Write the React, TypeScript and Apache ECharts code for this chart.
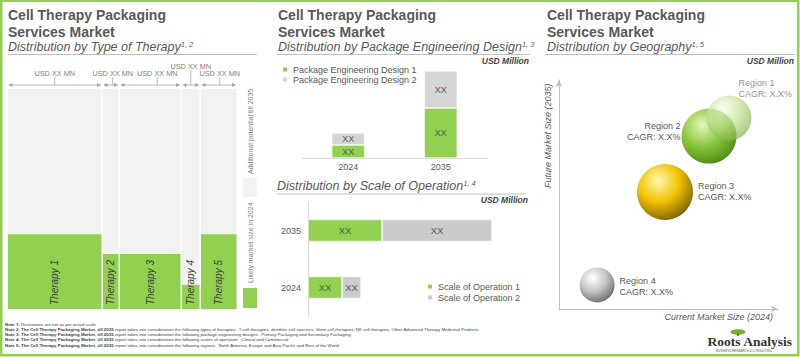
import React, { useEffect, useRef } from 'react';
import * as echarts from 'echarts';

// ---------- Data ----------
const therapies = ['Therapy 1', 'Therapy 2', 'Therapy 3', 'Therapy 4', 'Therapy 5'];
const therapyMarketWidth = [94, 17, 62, 19, 37];
const therapyLikely2024 = [34, 25, 25, 11, 34];
const therapyPotential2035 = [100, 100, 100, 100, 100];
const therapyValueLabels = ['USD XX MN', 'USD XX MN', 'USD XX MN', 'USD XX MN', 'USD XX MN'];

const designYears = ['2024', '2035'];
const designSeriesNames = ['Package Engineering Design 1', 'Package Engineering Design 2'];
const design1 = [13, 50];
const design2 = [12, 37];
const designValueLabels1 = ['XX', 'XX'];
const designValueLabels2 = ['XX', 'XX'];

const scaleYears = ['2024', '2035'];
const scaleSeriesNames = ['Scale of Operation 1', 'Scale of Operation 2'];
const scale1 = [34, 74];
const scale2 = [19, 110];
const scaleValueLabels1 = ['XX', 'XX'];
const scaleValueLabels2 = ['XX', 'XX'];

const regions = ['Region 1', 'Region 2', 'Region 3', 'Region 4'];
const regionCurrent2024 = [77.6, 68.5, 48.4, 17.4];
const regionFuture2035 = [83.4, 75.5, 51.1, 10.5];
const regionBubbleSize = [45, 55, 56, 35];
const regionCagr = ['X.X%', 'X.X%', 'X.X%', 'X.X%'];

const notes = [
  ['Note 1: ', 'Illustrations are not as per actual scale'],
  ['Note 2: The Cell Therapy Packaging Market, till 2035', ' report takes into consideration the following types of therapies:  T-cell therapies, dendritic cell vaccines, Stem cell therapies, NK cell therapies, Other Advanced Therapy Medicinal Products'],
  ['Note 3: The Cell Therapy Packaging Market, till 2035', ' report takes into consideration the following package engineering designs:  Primary Packaging and Secondary Packaging'],
  ['Note 4: The Cell Therapy Packaging Market, till 2035', ' report takes into consideration the following scales of operation:  Clinical and Commercial'],
  ['Note 5: The Cell Therapy Packaging Market, till 2035', ' report takes into consideration the following regions:  North America, Europe and Asia-Pacific and Rest of the World'],
];

// ---------- Styles ----------
const FONT = 'Liberation Sans, Arial, sans-serif';
const SERIF = 'Liberation Serif, DejaVu Serif, serif';
const GREEN = '#92d050';
const LIGHT = '#f2f2f2';
const GREY_BAR = '#cbcbcb';
const TXT = '#595959';
const labelShift = [0, 2, 7, 0, 1];
const labelRaise = [0, 0, 0, 7, 0];
const bubbleColors = [
  ['#f4fbe8', '#bfe08f', '#7fae42', 0.68],
  ['#e6f8bd', '#8dc83c', '#4a8a10', 1],
  ['#fff8b0', '#f1c300', '#7d6000', 1],
  ['#ffffff', '#c6c6c6', '#6a6a6a', 1],
];
const regionLabelPlacement: any[] = [
  { position: [32, -18], align: 'left', verticalAlign: 'top' },
  { position: 'left', distance: 1, offset: [0, -5], align: 'right' },
  { position: 'right', distance: 5, align: 'left' },
  { position: 'right', distance: 5, offset: [0, 2], align: 'left' },
];

function titleBlock(x: number, sub: string, sup: string, subY = 47): any[] {
  const els: any[] = [];
  if (subY === 47) {
    els.push({ type: 'text', x, y: 15, style: { text: 'Cell Therapy Packaging', fontSize: 14, fontWeight: 'bold', fontFamily: FONT, fill: TXT, verticalAlign: 'middle' } });
    els.push({ type: 'text', x, y: 31.5, style: { text: 'Services Market', fontSize: 14, fontWeight: 'bold', fontFamily: FONT, fill: TXT, verticalAlign: 'middle' } });
  }
  els.push({
    type: 'text', x, y: subY,
    style: {
      text: `{m|${sub}}{s|${sup}}`, verticalAlign: 'middle', fontFamily: FONT,
      rich: {
        m: { fontSize: 12.5, fontStyle: 'italic', fontFamily: FONT, fill: TXT },
        s: { fontSize: 7.5, fontStyle: 'italic', fontFamily: FONT, fill: TXT, verticalAlign: 'top' },
      },
    },
  });
  return els;
}

function usdMillion(x: number, y: number) {
  return { type: 'text', x, y, style: { text: 'USD Million', fontSize: 8.5, fontWeight: 'bold', fontStyle: 'italic', fontFamily: FONT, fill: '#404040', align: 'right', verticalAlign: 'middle' } };
}

function hline(x1: number, x2: number, y: number) {
  return { type: 'line', shape: { x1, y1: y, x2, y2: y }, style: { stroke: '#bfbfbf', lineWidth: 1 } };
}

export default function App() {
  const ref = useRef<HTMLDivElement>(null);
  useEffect(() => {
    if (!ref.current) return;
    const chart = echarts.init(ref.current, undefined, { renderer: 'svg' });

    const cum: number[] = [];
    therapyMarketWidth.reduce((acc, w) => { cum.push(acc); return acc + w; }, 0);
    const totalW = therapyMarketWidth.reduce((a, b) => a + b, 0);
    const mekkoData = therapies.map((t, i) => [cum[i], cum[i] + therapyMarketWidth[i], therapyLikely2024[i], therapyPotential2035[i], i]);

    const bubbleData = regions.map((r, i) => {
      const c = bubbleColors[i];
      const pl = regionLabelPlacement[i];
      return {
        name: r,
        value: [regionCurrent2024[i], regionFuture2035[i], regionBubbleSize[i]],
        itemStyle: {
          color: new echarts.graphic.RadialGradient(0.38, 0.3, 0.75, [
            { offset: 0, color: c[0] as string },
            { offset: 0.5, color: c[1] as string },
            { offset: 1, color: c[2] as string },
          ]),
          opacity: c[3] as number,
        },
        label: {
          show: true,
          formatter: `${r}\nCAGR: ${regionCagr[i]}`,
          fontSize: 9, lineHeight: 11, color: TXT, fontFamily: FONT,
          ...pl,
        },
      };
    }).reverse();

    const graphics: any[] = [
      ...titleBlock(8, 'Distribution by Type of Therapy', '1, 2'),
      hline(8, 257, 54.5),
      ...titleBlock(278, 'Distribution by Package Engineering Design', '1, 3'),
      hline(277, 530, 54.5),
      usdMillion(529, 61),
      ...titleBlock(277, 'Distribution by Scale of Operation', '1, 4', 186),
      hline(277, 526, 194),
      usdMillion(528, 200),
      ...titleBlock(547, 'Distribution by Geography', '1, 5'),
      hline(545, 795, 54.5),
      usdMillion(794, 61),
      // marimekko legend
      { type: 'rect', shape: { x: 243, y: 178, width: 14, height: 19 }, style: { fill: LIGHT } },
      { type: 'rect', shape: { x: 243, y: 288, width: 14, height: 20 }, style: { fill: GREEN } },
      { type: 'text', x: 250, y: 174, rotation: Math.PI / 2, style: { text: 'Additional potential till 2035', fontSize: 7, fontFamily: FONT, fill: '#7f7f7f', align: 'left', verticalAlign: 'middle' } },
      { type: 'text', x: 250, y: 283, rotation: Math.PI / 2, style: { text: 'Likely market size in 2024', fontSize: 7, fontFamily: FONT, fill: '#7f7f7f', align: 'left', verticalAlign: 'middle' } },
      // bubble axis names
      { type: 'text', x: 548, y: 188, rotation: Math.PI / 2, style: { text: 'Future Market Size (2035)', fontSize: 9, fontStyle: 'italic', fontFamily: FONT, fill: TXT, align: 'left', verticalAlign: 'middle' } },
      { type: 'text', x: 773, y: 317, style: { text: 'Current Market Size (2024)', fontSize: 9, fontStyle: 'italic', fontFamily: FONT, fill: TXT, align: 'right', verticalAlign: 'middle' } },
      // notes
      ...notes.map((n, i) => ({
        type: 'text', x: 5, y: [324, 329, 334, 339.5, 345][i],
        style: {
          text: `{b|${n[0]}}{n|${n[1]}}`, verticalAlign: 'middle', fontFamily: FONT,
          rich: {
            b: { fontSize: 4.4, fontWeight: 'bold', fontFamily: FONT, fill: '#404040' },
            n: { fontSize: 4.4, fontFamily: FONT, fill: '#404040' },
          },
        },
      })),
      // logo
      { type: 'ellipse', shape: { cx: 738, cy: 332, rx: 7.5, ry: 2.8 }, style: { fill: '#6fb52c' } },
      { type: 'rect', shape: { x: 737.3, y: 333.5, width: 1.4, height: 2.5 }, style: { fill: '#5a4a2a' } },
      { type: 'text', x: 792, y: 341, style: { text: 'Roots Analysis', fontSize: 13.5, fontWeight: 'bold', fontFamily: SERIF, fill: '#333333', align: 'right', verticalAlign: 'middle' } },
      { type: 'text', x: 716, y: 350.3, style: { text: 'BUSINESS RESEARCH & CONSULTING', fontSize: 3, fontFamily: FONT, fill: '#555555', verticalAlign: 'middle' } },
      // outer border
      { type: 'rect', z: 100, shape: { x: 1.25, y: 0.75, width: 797, height: 354.5 }, style: { fill: 'none', stroke: GREEN, lineWidth: 2.5 } },
    ];

    const option: any = {
      animation: false,
      backgroundColor: '#ffffff',
      textStyle: { fontFamily: FONT },
      grid: [
        { left: 8, top: 89, width: 229, height: 220 },
        { left: 302, top: 58, width: 185, height: 100 },
        { left: 308, top: 202, width: 184, height: 114 },
        { left: 559, top: 80, width: 219, height: 229 },
      ],
      xAxis: [
        { gridIndex: 0, type: 'value', min: 0, max: totalW, show: false },
        {
          gridIndex: 1, type: 'category', data: designYears,
          axisLine: { lineStyle: { color: '#d9d9d9' } }, axisTick: { show: false },
          axisLabel: { fontSize: 9, color: TXT, margin: 4, fontFamily: FONT },
        },
        { gridIndex: 2, type: 'value', min: 0, max: 184, show: false },
        {
          gridIndex: 3, type: 'value', min: 0, max: 100,
          axisLine: { show: true, symbol: ['none', 'arrow'], symbolSize: [5, 7], lineStyle: { color: '#bfbfbf' } },
          axisTick: { show: false }, axisLabel: { show: false }, splitLine: { show: false },
        },
      ],
      yAxis: [
        { gridIndex: 0, type: 'value', min: 0, max: 100, show: false },
        { gridIndex: 1, type: 'value', min: 0, max: 100, show: false },
        {
          gridIndex: 2, type: 'category', data: scaleYears,
          axisLine: { lineStyle: { color: '#d9d9d9' } }, axisTick: { show: false },
          axisLabel: { fontSize: 9, color: TXT, margin: 7, fontFamily: FONT },
        },
        {
          gridIndex: 3, type: 'value', min: 0, max: 100,
          axisLine: { show: true, symbol: ['none', 'arrow'], symbolSize: [5, 7], lineStyle: { color: '#bfbfbf' } },
          axisTick: { show: false }, axisLabel: { show: false }, splitLine: { show: false },
        },
      ],
      legend: [
        {
          data: designSeriesNames, left: 276, top: 60, orient: 'vertical', icon: 'rect',
          itemWidth: 6, itemHeight: 6, itemGap: 1, selectedMode: false,
          textStyle: { fontSize: 9, color: TXT, fontFamily: FONT },
        },
        {
          data: scaleSeriesNames, left: 421, top: 277, orient: 'vertical', icon: 'rect',
          itemWidth: 6, itemHeight: 6, itemGap: 2, selectedMode: false,
          textStyle: { fontSize: 9, color: TXT, fontFamily: FONT },
        },
      ],
      graphic: graphics,
      series: [
        {
          type: 'custom', xAxisIndex: 0, yAxisIndex: 0, data: mekkoData, clip: false,
          encode: { x: [0, 1], y: [2, 3] },
          renderItem: (params: any, api: any) => {
            const x0 = api.value(0), x1 = api.value(1), v24 = api.value(2), v35 = api.value(3), i = api.value(4);
            const p0 = api.coord([x0, 0]);
            const p1 = api.coord([x1, 0]);
            const y24 = api.coord([x0, v24])[1];
            const y35 = api.coord([x0, v35])[1];
            const left = p0[0] + (i > 0 ? 1 : 0);
            const right = p1[0] - 0.5;
            const base = p0[1];
            const cx = (left + right) / 2;
            const ay = y35 - 4;
            const lx = cx + labelShift[i];
            const lift = labelRaise[i];
            const arrowCol = '#a6a6a6';
            return {
              type: 'group',
              children: [
                { type: 'rect', shape: { x: left, y: y35, width: right - left, height: base - y35 }, style: { fill: LIGHT } },
                { type: 'rect', shape: { x: left, y: y24, width: right - left, height: base - y24 }, style: { fill: GREEN } },
                { type: 'text', x: cx, y: base - 4, rotation: Math.PI / 2, style: { text: therapies[i], fontSize: 10, fontStyle: 'italic', fontFamily: FONT, fill: '#404040', align: 'left', verticalAlign: 'middle' } },
                { type: 'line', shape: { x1: left + 1, y1: ay, x2: right - 1, y2: ay }, style: { stroke: arrowCol, lineWidth: 0.8 } },
                { type: 'polygon', shape: { points: [[left + 0.5, ay], [left + 4.5, ay - 2], [left + 4.5, ay + 2]] }, style: { fill: arrowCol } },
                { type: 'polygon', shape: { points: [[right - 0.5, ay], [right - 4.5, ay - 2], [right - 4.5, ay + 2]] }, style: { fill: arrowCol } },
                { type: 'line', shape: { x1: lx, y1: ay - 8 - lift, x2: lx, y2: ay }, style: { stroke: arrowCol, lineWidth: 0.8 } },
                { type: 'text', x: lx, y: ay - 12 - lift, style: { text: therapyValueLabels[i], fontSize: 7.3, fontFamily: FONT, fill: '#7f7f7f', align: 'center', verticalAlign: 'middle' } },
              ],
            };
          },
        },
        {
          name: designSeriesNames[0], type: 'bar', xAxisIndex: 1, yAxisIndex: 1, stack: 'd', data: design1, barWidth: 33,
          itemStyle: { color: GREEN, borderColor: '#fff', borderWidth: 0.6 },
          label: { show: true, position: 'inside', formatter: (p: any) => designValueLabels1[p.dataIndex], fontSize: 9, color: TXT, fontFamily: FONT },
        },
        {
          name: designSeriesNames[1], type: 'bar', xAxisIndex: 1, yAxisIndex: 1, stack: 'd', data: design2, barWidth: 33,
          itemStyle: { color: '#d6d6d6', borderColor: '#fff', borderWidth: 0.6 },
          label: { show: true, position: 'inside', formatter: (p: any) => designValueLabels2[p.dataIndex], fontSize: 9, color: TXT, fontFamily: FONT },
        },
        {
          name: scaleSeriesNames[0], type: 'bar', xAxisIndex: 2, yAxisIndex: 2, stack: 's', data: scale1, barWidth: 22,
          itemStyle: { color: GREEN, borderColor: '#fff', borderWidth: 0.6 },
          label: { show: true, position: 'inside', formatter: (p: any) => scaleValueLabels1[p.dataIndex], fontSize: 9.5, color: TXT, fontFamily: FONT },
        },
        {
          name: scaleSeriesNames[1], type: 'bar', xAxisIndex: 2, yAxisIndex: 2, stack: 's', data: scale2, barWidth: 22,
          itemStyle: { color: GREY_BAR, borderColor: '#fff', borderWidth: 0.6 },
          label: { show: true, position: 'inside', formatter: (p: any) => scaleValueLabels2[p.dataIndex], fontSize: 9.5, color: TXT, fontFamily: FONT },
        },
        {
          type: 'scatter', xAxisIndex: 3, yAxisIndex: 3, data: bubbleData,
          symbolSize: (v: number[]) => v[2],
        },
      ],
    };
    chart.setOption(option);
    return () => chart.dispose();
  }, []);

  return <div ref={ref} style={{ position: 'absolute', left: 0, top: 0, width: 800, height: 357, background: '#fff' }} />;
}
